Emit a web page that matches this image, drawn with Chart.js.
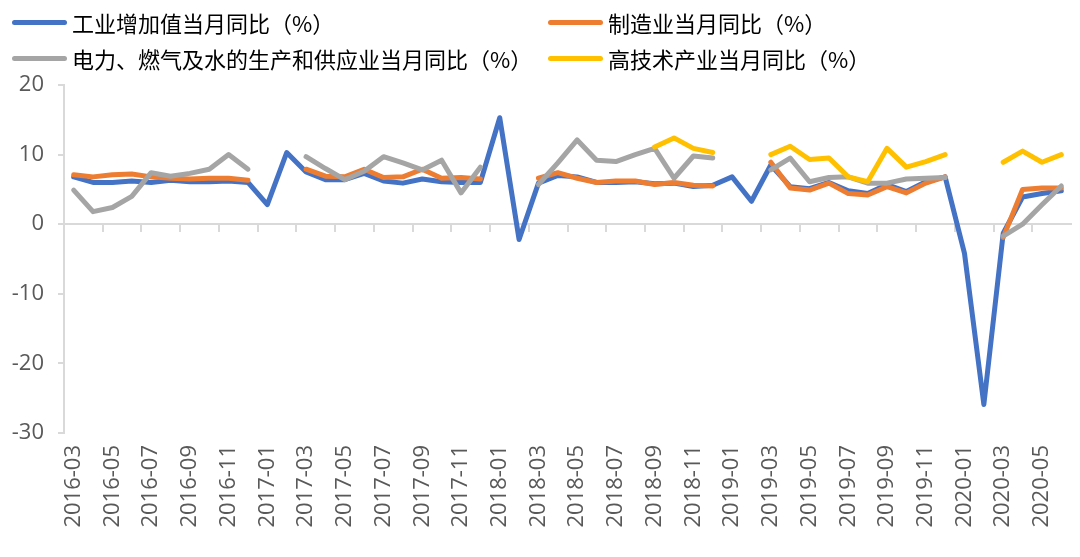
<!DOCTYPE html>
<html>
<head>
<meta charset="utf-8">
<script src="https://cdn.jsdelivr.net/npm/chart.js@4/dist/chart.umd.min.js"></script>
<style>
  body { margin: 0; background: #fff; }
  #wrap { position: relative; width: 1080px; height: 557px; }
  #legend {
    position: absolute; left: 12px; top: 4px;
    display: grid; grid-template-columns: 536px auto; row-gap: 0;
    font-family: "Noto Sans CJK SC", sans-serif; font-size: 22px; color: #000;
  }
  .item { display: flex; align-items: center; height: 36px; }
  .swatch { width: 55px; height: 5px; border-radius: 3px; margin-right: 5px; }
</style>
</head>
<body>
<div id="wrap">
  <canvas id="chart" width="1080" height="557"></canvas>
  <div id="legend"></div>
</div>
<script>
// 月份 2016-03 ~ 2020-06
const months = [
  '2016-03','2016-04','2016-05','2016-06','2016-07','2016-08','2016-09','2016-10','2016-11','2016-12',
  '2017-01','2017-02','2017-03','2017-04','2017-05','2017-06','2017-07','2017-08','2017-09','2017-10','2017-11','2017-12',
  '2018-01','2018-02','2018-03','2018-04','2018-05','2018-06','2018-07','2018-08','2018-09','2018-10','2018-11','2018-12',
  '2019-01','2019-02','2019-03','2019-04','2019-05','2019-06','2019-07','2019-08','2019-09','2019-10','2019-11','2019-12',
  '2020-01','2020-02','2020-03','2020-04','2020-05','2020-06'
];

// 工业增加值当月同比
const industry = [
  6.8, 6.0, 6.0, 6.2, 6.0, 6.3, 6.1, 6.1, 6.2, 6.0,
  2.8, 10.3, 7.5, 6.4, 6.4, 7.3, 6.2, 5.9, 6.5, 6.1, 6.0, 6.0,
  15.3, -2.2, 5.9, 7.0, 6.8, 6.0, 6.0, 6.1, 5.8, 5.9, 5.4, 5.6,
  6.8, 3.3, 8.5, 5.4, 5.1, 6.0, 4.8, 4.4, 5.7, 4.7, 6.1, 6.8,
  -4.2, -25.9, -1.3, 3.9, 4.4, 4.8
];

// 制造业当月同比
const manufacturing = [
  7.1, 6.8, 7.1, 7.2, 6.8, 6.6, 6.5, 6.6, 6.6, 6.3,
  null, null, 7.9, 6.9, 6.8, 7.9, 6.7, 6.8, 7.9, 6.6, 6.7, 6.5,
  null, null, 6.6, 7.4, 6.6, 6.0, 6.2, 6.2, 5.7, 6.0, 5.6, 5.5,
  null, null, 8.9, 5.2, 4.9, 5.9, 4.4, 4.2, 5.4, 4.5, 5.9, 6.8,
  null, null, -1.9, 5.0, 5.2, 5.2
];

// 电力、燃气及水的生产和供应业当月同比
const utilities = [
  4.9, 1.8, 2.4, 4.0, 7.4, 6.9, 7.3, 7.9, 10.0, 7.9,
  null, null, 9.7, 8.0, 6.4, 7.6, 9.7, 8.8, 7.8, 9.2, 4.5, 8.2,
  null, null, 5.7, 8.8, 12.1, 9.2, 9.0, 10.0, 10.9, 6.6, 9.8, 9.5,
  null, null, 7.8, 9.5, 6.1, 6.7, 6.8, 5.9, 5.9, 6.5, 6.6, 6.7,
  null, null, -1.7, 0.0, 2.8, 5.5
];

// 高技术产业当月同比
const hightech = [
  null, null, null, null, null, null, null, null, null, null,
  null, null, null, null, null, null, null, null, null, null, null, null,
  null, null, null, null, null, null, null, null, 11.1, 12.4, 10.9, 10.3,
  null, null, 10.0, 11.2, 9.3, 9.5, 6.8, 6.1, 10.9, 8.2, 9.0, 10.0,
  null, null, 8.9, 10.5, 8.9, 10.0
];

const yTicks = [20, 10, 0, -10, -20, -30];

const axisGrey = '#d9d9d9';
const tickFont = { family: 'Open Sans', size: 22 };

function series(label, data, color, order) {
  return {
    label, data,
    borderColor: color,
    backgroundColor: color,
    borderWidth: 5,
    pointRadius: 0,
    tension: 0,
    borderJoinStyle: 'round',
    borderCapStyle: 'round',
    spanGaps: false,
    order
  };
}

const chart = new Chart(document.getElementById('chart').getContext('2d'), {
  type: 'line',
  data: {
    labels: months,
    datasets: [
      series('工业增加值当月同比（%）', industry, '#4472C4', 3),
      series('制造业当月同比（%）', manufacturing, '#ED7D31', 2),
      series('电力、燃气及水的生产和供应业当月同比（%）', utilities, '#A5A5A5', 1),
      series('高技术产业当月同比（%）', hightech, '#FFC000', 0)
    ]
  },
  options: {
    responsive: false,
    animation: false,
    layout: { padding: { left: 0, right: 9, top: 85, bottom: 0 } },
    plugins: { legend: { display: false }, tooltip: { enabled: false } },
    scales: {
      x: {
        type: 'category',
        position: 'bottom',
        offset: true,
        grid: { display: false, drawTicks: false },
        border: { display: false },
        ticks: {
          autoSkip: false,
          maxRotation: 90,
          minRotation: 90,
          padding: 12,
          color: '#595959',
          font: tickFont,
          callback: (v, i) => (i % 2 === 0 ? months[i] : '')
        },
        afterFit: s => {
          s.height = 124;
          s.paddingLeft = 0;
          s.paddingRight = 0;
        }
      },
      x0: {
        type: 'category',
        position: { y: 0 },
        offset: true,
        grid: {
          offset: true,
          drawOnChartArea: false,
          drawTicks: true,
          tickLength: 7,
          lineWidth: 2,
          tickColor: ctx => (ctx.index % 2 === 0 ? axisGrey : 'rgba(0,0,0,0)')
        },
        border: { color: axisGrey, width: 2 },
        ticks: { display: false },
        afterFit: s => {
          s.paddingLeft = 0;
          s.paddingRight = 0;
        }
      },
      y: {
        min: -30,
        max: 20,
        afterBuildTicks: s => { s.ticks = yTicks.map(v => ({ value: v })); },
        grid: { drawOnChartArea: false, tickLength: 6, lineWidth: 2, color: axisGrey },
        border: { color: axisGrey, width: 2 },
        ticks: { color: '#595959', font: tickFont, padding: 14 },
        afterFit: s => { s.width = 64; }
      }
    }
  }
});

// 图例 (两列)
const legend = document.getElementById('legend');
chart.data.datasets.forEach(ds => {
  const item = document.createElement('div');
  item.className = 'item';
  const sw = document.createElement('span');
  sw.className = 'swatch';
  sw.style.background = ds.borderColor;
  const txt = document.createElement('span');
  txt.textContent = ds.label;
  item.appendChild(sw);
  item.appendChild(txt);
  legend.appendChild(item);
});
</script>
</body>
</html>
